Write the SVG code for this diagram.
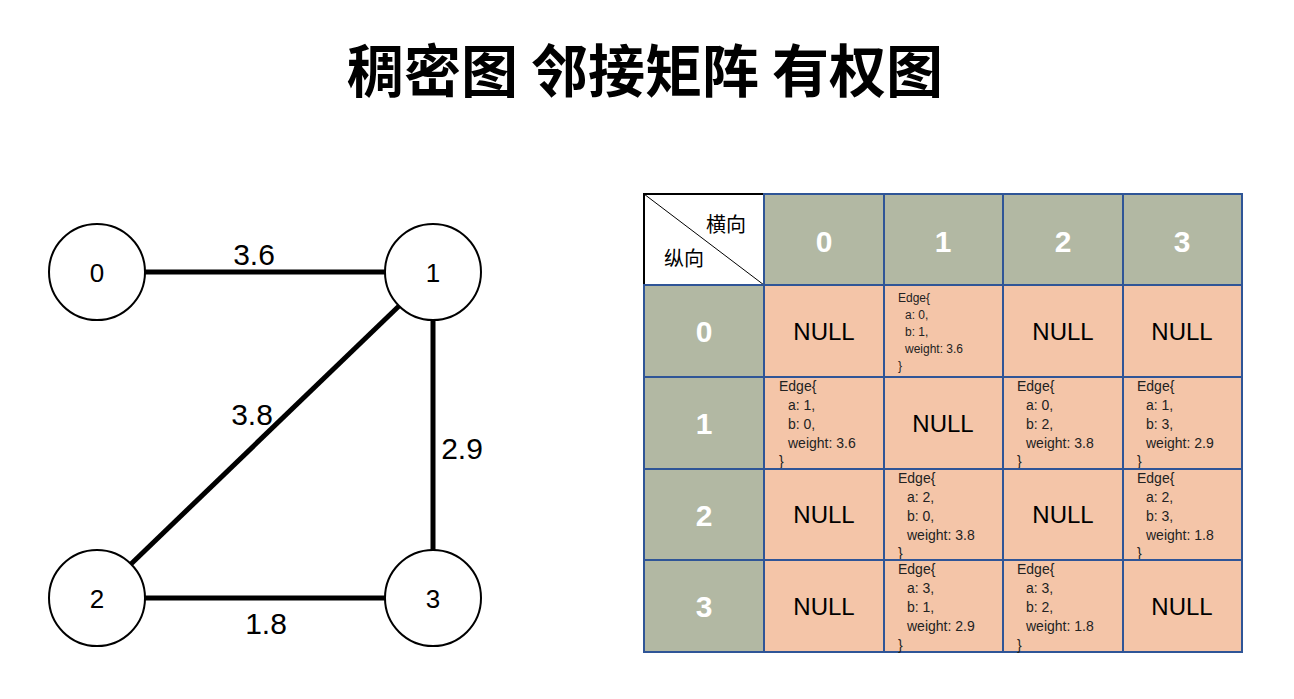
<svg xmlns="http://www.w3.org/2000/svg" width="1294" height="699" viewBox="0 0 1294 699">
<style>
text{font-family:"Liberation Sans","Noto Sans CJK SC",sans-serif;fill:#000}
.n{fill:#fff;stroke:#000;stroke-width:2}
.nl{font-size:26px;text-anchor:middle}
.e{stroke:#000;stroke-width:5}
.el{font-size:30px;text-anchor:middle}
.h{fill:#b2b8a3;stroke:#2f5597;stroke-width:2}
.c{fill:#f4c5a8;stroke:#2f5597;stroke-width:2}
.ht{font-size:30px;font-weight:bold;fill:#fff;text-anchor:middle}
.nu{font-size:24px;text-anchor:middle}
.s{font-size:14px;fill:#222}
.t{font-size:12px;fill:#222}
</style>
<rect width="1294" height="699" fill="#fff"/>
<text x="645" y="92" font-size="57" font-weight="bold" text-anchor="middle" style="font-family:'Noto Sans CJK SC',sans-serif">稠密图 邻接矩阵 有权图</text>
<g id="connectors">
<line class="e" x1="145" y1="272" x2="385" y2="272"/>
<line class="e" x1="399" y1="306" x2="131" y2="564"/>
<line class="e" x1="433" y1="320" x2="433" y2="550"/>
<line class="e" x1="145" y1="598" x2="385" y2="598"/>
<text class="el" x="254" y="265">3.6</text>
<text class="el" x="252" y="425">3.8</text>
<text class="el" x="462" y="459">2.9</text>
<text class="el" x="266" y="634">1.8</text>
</g>
<g id="node0"><circle class="n" cx="97" cy="272" r="48"/><text class="nl" x="97" y="282">0</text></g>
<g id="node1"><circle class="n" cx="433" cy="272" r="48"/><text class="nl" x="433" y="282">1</text></g>
<g id="node2"><circle class="n" cx="97" cy="598" r="48"/><text class="nl" x="97" y="608">2</text></g>
<g id="node3"><circle class="n" cx="433" cy="598" r="48"/><text class="nl" x="433" y="608">3</text></g>
<g id="matrix">
<rect x="644" y="194" width="120" height="91" fill="#fff" stroke="#000" stroke-width="2"/>
<line x1="644" y1="194" x2="764" y2="285" stroke="#000" stroke-width="1"/>
<text x="706" y="232" font-size="20">横向</text>
<text x="664" y="266" font-size="20">纵向</text>
<rect class="h" x="764" y="194" width="120" height="91"/><text class="ht" x="824" y="252">0</text>
<rect class="h" x="884" y="194" width="119" height="91"/><text class="ht" x="943" y="252">1</text>
<rect class="h" x="1003" y="194" width="120" height="91"/><text class="ht" x="1063" y="252">2</text>
<rect class="h" x="1123" y="194" width="119" height="91"/><text class="ht" x="1182" y="252">3</text>
<rect class="h" x="644" y="285" width="120" height="92"/><text class="ht" x="704" y="342">0</text>
<rect class="h" x="644" y="377" width="120" height="92"/><text class="ht" x="704" y="434">1</text>
<rect class="h" x="644" y="469" width="120" height="91"/><text class="ht" x="704" y="526">2</text>
<rect class="h" x="644" y="560" width="120" height="92"/><text class="ht" x="704" y="617">3</text>
<g id="row0">
<rect class="c" x="764" y="285" width="120" height="92"/><text class="nu" x="824" y="340">NULL</text>
<rect class="c" x="884" y="285" width="119" height="92"/>
<text class="t" x="898" y="302">Edge{</text><text class="t" x="905" y="319">a: 0,</text><text class="t" x="905" y="336">b: 1,</text><text class="t" x="905" y="353">weight: 3.6</text><text class="t" x="898" y="370">}</text>
<rect class="c" x="1003" y="285" width="120" height="92"/><text class="nu" x="1063" y="340">NULL</text>
<rect class="c" x="1123" y="285" width="119" height="92"/><text class="nu" x="1182" y="340">NULL</text>
</g>
<g id="row1">
<rect class="c" x="764" y="377" width="120" height="92"/>
<text class="s" x="779" y="391">Edge{</text><text class="s" x="788" y="410">a: 1,</text><text class="s" x="788" y="429">b: 0,</text><text class="s" x="788" y="448">weight: 3.6</text><text class="s" x="779" y="466">}</text>
<rect class="c" x="884" y="377" width="119" height="92"/><text class="nu" x="943" y="432">NULL</text>
<rect class="c" x="1003" y="377" width="120" height="92"/>
<text class="s" x="1017" y="391">Edge{</text><text class="s" x="1026" y="410">a: 0,</text><text class="s" x="1026" y="429">b: 2,</text><text class="s" x="1026" y="448">weight: 3.8</text><text class="s" x="1017" y="466">}</text>
<rect class="c" x="1123" y="377" width="119" height="92"/>
<text class="s" x="1137" y="391">Edge{</text><text class="s" x="1146" y="410">a: 1,</text><text class="s" x="1146" y="429">b: 3,</text><text class="s" x="1146" y="448">weight: 2.9</text><text class="s" x="1137" y="466">}</text>
</g>
<g id="row2">
<rect class="c" x="764" y="469" width="120" height="91"/><text class="nu" x="824" y="523">NULL</text>
<rect class="c" x="884" y="469" width="119" height="91"/>
<text class="s" x="898" y="483">Edge{</text><text class="s" x="907" y="502">a: 2,</text><text class="s" x="907" y="521">b: 0,</text><text class="s" x="907" y="540">weight: 3.8</text><text class="s" x="898" y="558">}</text>
<rect class="c" x="1003" y="469" width="120" height="91"/><text class="nu" x="1063" y="523">NULL</text>
<rect class="c" x="1123" y="469" width="119" height="91"/>
<text class="s" x="1137" y="483">Edge{</text><text class="s" x="1146" y="502">a: 2,</text><text class="s" x="1146" y="521">b: 3,</text><text class="s" x="1146" y="540">weight: 1.8</text><text class="s" x="1137" y="558">}</text>
</g>
<g id="row3">
<rect class="c" x="764" y="560" width="120" height="92"/><text class="nu" x="824" y="615">NULL</text>
<rect class="c" x="884" y="560" width="119" height="92"/>
<text class="s" x="898" y="574">Edge{</text><text class="s" x="907" y="593">a: 3,</text><text class="s" x="907" y="612">b: 1,</text><text class="s" x="907" y="631">weight: 2.9</text><text class="s" x="898" y="650">}</text>
<rect class="c" x="1003" y="560" width="120" height="92"/>
<text class="s" x="1017" y="574">Edge{</text><text class="s" x="1026" y="593">a: 3,</text><text class="s" x="1026" y="612">b: 2,</text><text class="s" x="1026" y="631">weight: 1.8</text><text class="s" x="1017" y="650">}</text>
<rect class="c" x="1123" y="560" width="119" height="92"/><text class="nu" x="1182" y="615">NULL</text>
</g>
</g>
</svg>
